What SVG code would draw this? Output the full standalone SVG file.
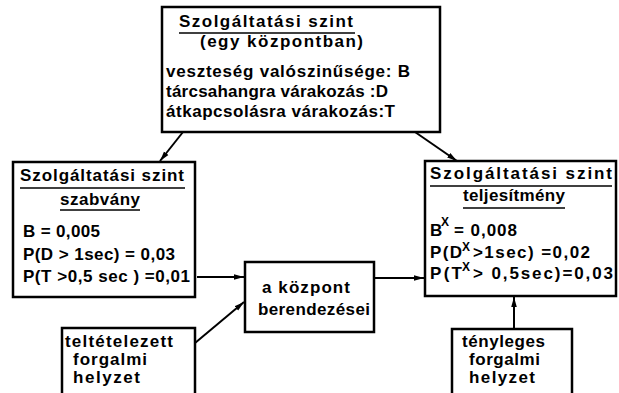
<svg xmlns="http://www.w3.org/2000/svg" width="619" height="393" viewBox="0 0 619 393">
  <style>
    .box { fill: #fff; stroke: #000; stroke-width: 2.5; }
    .t { font-family: "Liberation Sans", Arial, sans-serif; font-size: 17px; font-weight: bold; fill: #000; }
    .sup { font-size: 12px; }
    .ul { stroke: #000; stroke-width: 1.6; fill: none; }
    .conn line { stroke: #000; stroke-width: 2; marker-end: url(#arrow); }
  </style>
  <defs>
    <marker id="arrow" markerUnits="userSpaceOnUse" markerWidth="11" markerHeight="8" refX="10" refY="4" orient="auto">
      <path d="M0,1.2 L10,4 L0,6.8 Z" fill="#000"/>
    </marker>
  </defs>
  <rect width="619" height="393" fill="#fff"/>

  <!-- connectors -->
  <g id="connectors" class="conn">
    <line x1="183" y1="132" x2="160" y2="161"/>
    <line x1="415" y1="132" x2="457" y2="161"/>
    <line x1="197" y1="277" x2="244" y2="277"/>
    <line x1="375" y1="278" x2="424" y2="278"/>
    <line x1="195" y1="343" x2="244" y2="302"/>
    <line x1="514" y1="329" x2="514" y2="297"/>
  </g>

  <!-- service level in one exchange -->
  <g id="node-service-level">
    <rect class="box" x="162" y="7" width="278" height="125"/>
    <text class="t" x="179" y="27" textLength="174" lengthAdjust="spacing">Szolgáltatási szint</text>
    <line class="ul" x1="179" y1="33" x2="355" y2="33"/>
    <text class="t" x="200" y="47" textLength="163" lengthAdjust="spacing">(egy központban)</text>
    <text class="t" x="166" y="77" textLength="244" lengthAdjust="spacing">veszteség valószinűsége: B</text>
    <text class="t" x="166" y="97" textLength="222" lengthAdjust="spacing">tárcsahangra várakozás :D</text>
    <text class="t" x="166" y="117" textLength="229" lengthAdjust="spacing">átkapcsolásra várakozás:T</text>
  </g>

  <!-- standard -->
  <g id="node-standard">
    <rect class="box" x="13" y="162" width="182" height="135"/>
    <text class="t" x="20" y="181" textLength="164" lengthAdjust="spacing">Szolgáltatási szint</text>
    <line class="ul" x1="20" y1="188" x2="185" y2="188"/>
    <text class="t" x="60" y="205" textLength="80" lengthAdjust="spacing">szabvány</text>
    <line class="ul" x1="60" y1="210" x2="140" y2="210"/>
    <text class="t" x="23" y="237" textLength="77" lengthAdjust="spacing">B = 0,005</text>
    <text class="t" x="23" y="260" textLength="152" lengthAdjust="spacing">P(D &gt; 1sec) = 0,03</text>
    <text class="t" x="23" y="282" textLength="167" lengthAdjust="spacing">P(T &gt;0,5 sec ) =0,01</text>
  </g>

  <!-- exchange equipment -->
  <g id="node-equipment">
    <rect class="box" x="245" y="262" width="129" height="70"/>
    <text class="t" x="262" y="293" textLength="88" lengthAdjust="spacing">a központ</text>
    <text class="t" x="258" y="315" textLength="112" lengthAdjust="spacing">berendezései</text>
  </g>

  <!-- performance -->
  <g id="node-performance">
    <rect class="box" x="425" y="161" width="191" height="135"/>
    <text class="t" x="430" y="179" textLength="182" lengthAdjust="spacing">Szolgáltatási szint</text>
    <line class="ul" x1="430" y1="186" x2="612" y2="186"/>
    <text class="t" x="463" y="201" textLength="102" lengthAdjust="spacing">teljesítmény</text>
    <line class="ul" x1="463" y1="208" x2="565" y2="208"/>
    <text class="t" x="430" y="236">B</text>
    <text class="t sup" x="441" y="226">X</text>
    <text class="t" x="454" y="236" textLength="63" lengthAdjust="spacing">= 0,008</text>
    <text class="t" x="430" y="258" textLength="32" lengthAdjust="spacing">P(D</text>
    <text class="t sup" x="462" y="251">X</text>
    <text class="t" x="473" y="258" textLength="117" lengthAdjust="spacing">&gt;1sec) =0,02</text>
    <text class="t" x="430" y="279" textLength="32" lengthAdjust="spacing">P(T</text>
    <text class="t sup" x="462" y="271">X</text>
    <text class="t" x="473" y="279" textLength="140" lengthAdjust="spacing">&gt; 0,5sec)=0,03</text>
  </g>

  <!-- assumed traffic -->
  <g id="node-assumed-traffic">
    <rect class="box" x="62" y="328" width="133" height="80"/>
    <text class="t" x="65" y="347" textLength="108" lengthAdjust="spacing">teltételezett</text>
    <text class="t" x="73" y="365" textLength="74" lengthAdjust="spacing">forgalmi</text>
    <text class="t" x="73" y="383" textLength="67" lengthAdjust="spacing">helyzet</text>
  </g>

  <!-- actual traffic -->
  <g id="node-actual-traffic">
    <rect class="box" x="452" y="329" width="120" height="80"/>
    <text class="t" x="462" y="347" textLength="83" lengthAdjust="spacing">tényleges</text>
    <text class="t" x="469" y="365" textLength="71" lengthAdjust="spacing">forgalmi</text>
    <text class="t" x="469" y="383" textLength="66" lengthAdjust="spacing">helyzet</text>
  </g>
</svg>
